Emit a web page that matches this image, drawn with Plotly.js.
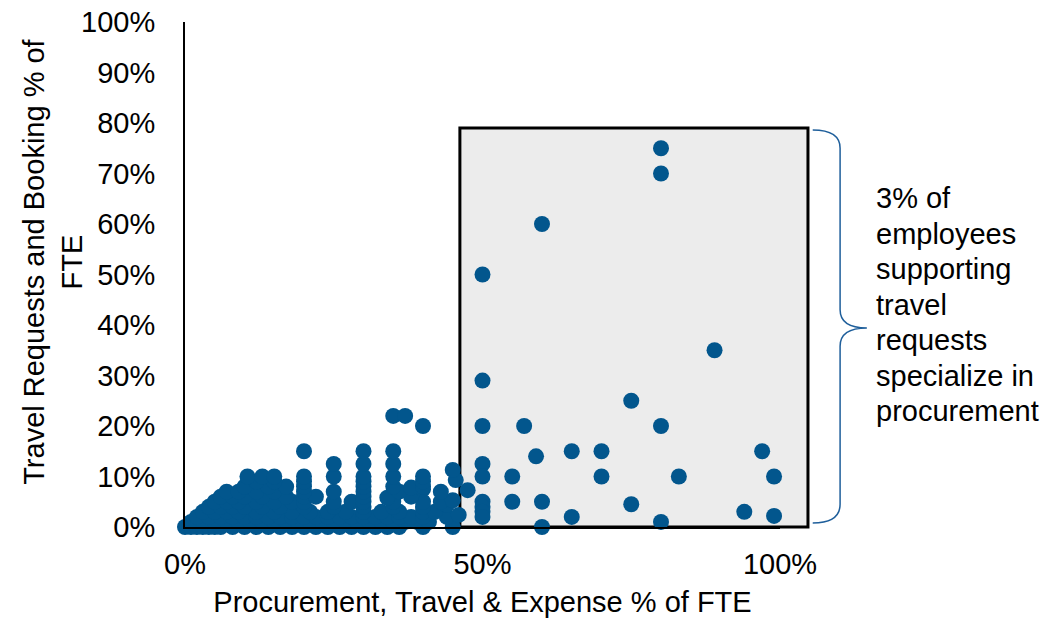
<!DOCTYPE html>
<html>
<head>
<meta charset="utf-8">
<script src="https://cdn.plot.ly/plotly-3.0.1.min.js"></script>
<style>html,body{margin:0;padding:0;background:#fff;}#chart{width:1044px;height:618px;}</style>
</head>
<body>
<div id="chart"></div>
<script>
// Procurement, Travel & Expense share of FTE (x) vs Travel Requests and Booking share of FTE (y)
const clusterX = [
  0,0.01,0.02,0.03,0.04,0.05,0.06,0.08,0.10,0.12,0.14,0.16,0.18,0.20,0.22,0.24,0.26,0.28,0.30,0.32,0.34,0.36,0.40,0.45,
  0.01,0.03,0.05,0.07,0.09,0.11,0.13,0.15,0.17,0.19,0.21,0.23,0.25,0.27,0.29,0.31,0.33,0.35,0.37,0.39,0.41,
  0.02,0.04,0.06,0.08,0.10,0.12,0.14,0.16,0.18,0.20,0.22,0.24,0.26,0.28,0.30,0.32,0.34,0.36,0.38,0.40,0.44,0.46,
  0.03,0.05,0.07,0.09,0.12,0.15,0.18,0.21,0.24,0.27,0.30,0.33,0.36,0.40,0.42,
  0.04,0.06,0.08,0.10,0.13,0.16,0.20,0.25,0.30,0.35,0.40,0.44,
  0.05,0.07,0.09,0.12,0.15,0.18,0.20,0.25,0.28,0.30,0.35,0.40,0.43,0.45,
  0.06,0.08,0.10,0.13,0.17,0.20,0.22,0.30,0.34,0.38,
  0.07,0.09,0.12,0.15,0.20,0.25,0.30,0.36,0.40,0.43,0.475,
  0.10,0.14,0.17,0.20,0.30,0.35,0.38,0.40,
  0.12,0.15,0.20,0.30,0.40,0.455,
  0.105,0.13,0.15,0.20,0.25,0.30,0.35,0.40,
  0.45,
  0.25,0.30,0.35,
  0.20,0.30,0.35,
  0.35,0.37,0.40
];
const clusterY = [
  0,0,0,0,0,0,0,0,0,0,0,0,0,0,0,0,0,0,0,0,0,0,0,0,
  0.01,0.01,0.01,0.01,0.01,0.01,0.01,0.01,0.01,0.01,0.01,0.01,0.01,0.01,0.01,0.01,0.01,0.01,0.01,0.01,0.01,
  0.02,0.02,0.02,0.02,0.02,0.02,0.02,0.02,0.02,0.02,0.02,0.02,0.02,0.02,0.02,0.02,0.02,0.02,0.02,0.02,0.02,0.024,
  0.03,0.03,0.03,0.03,0.03,0.03,0.03,0.03,0.03,0.03,0.03,0.03,0.03,0.03,0.03,
  0.04,0.04,0.04,0.04,0.04,0.04,0.04,0.04,0.04,0.04,0.04,0.044,
  0.05,0.05,0.05,0.05,0.05,0.05,0.05,0.05,0.05,0.05,0.05,0.05,0.05,0.053,
  0.06,0.06,0.06,0.06,0.06,0.06,0.06,0.06,0.058,0.06,
  0.07,0.07,0.07,0.07,0.07,0.07,0.07,0.07,0.075,0.07,0.073,
  0.08,0.08,0.08,0.08,0.08,0.08,0.078,0.08,
  0.09,0.09,0.09,0.09,0.09,0.093,
  0.10,0.10,0.10,0.10,0.10,0.10,0.10,0.10,
  0.113,
  0.125,0.125,0.125,
  0.15,0.15,0.15,
  0.22,0.22,0.20
];
const boxX = [0.50,0.50,0.50,0.50,0.50,0.50,0.50,0.50,0.50,0.57,0.59,0.55,0.55,0.60,0.60,0.60,0.65,0.65,0.70,0.70,0.75,0.75,0.80,0.80,0.80,0.80,0.83,0.89,0.94,0.97,0.99,0.99];
const boxY = [0.50,0.29,0.20,0.125,0.10,0.05,0.04,0.03,0.02,0.20,0.14,0.10,0.05,0.05,0.00,0.60,0.15,0.02,0.15,0.10,0.25,0.045,0.20,0.01,0.75,0.70,0.10,0.35,0.03,0.15,0.10,0.022];
const xTickVals = [0, 0.5, 1];
const xTickText = ['0%', '50%', '100%'];
const yTickVals = [0,0.1,0.2,0.3,0.4,0.5,0.6,0.7,0.8,0.9,1];
const yTickText = ['0%','10%','20%','30%','40%','50%','60%','70%','80%','90%','100%'];
const xTitle = 'Procurement, Travel &amp; Expense % of FTE';
const yTitle = 'Travel Requests and Booking % of<br>FTE';
const noteLines = ['3% of', 'employees', 'supporting', 'travel', 'requests', 'specialize in', 'procurement'];

const FONT = 'Liberation Sans, Arial, sans-serif';
const FS = 29;
const DOT = '#02568D';

const traces = [{
  type: 'scatter', mode: 'markers',
  x: clusterX.concat(boxX), y: clusterY.concat(boxY),
  marker: {size: 16, color: DOT, line: {width: 0}},
  cliponaxis: false, hoverinfo: 'x+y'
}];

const plotH = 618 - 22 - 91;
const lineStep = 35.5 / plotH;
const noteAnns = noteLines.map((t, i) => ({
  xref: 'paper', yref: 'paper', x: 1.158, y: 0.651 - i * lineStep,
  xanchor: 'left', yanchor: 'middle', align: 'left', showarrow: false, text: t,
  font: {family: FONT, size: FS, color: '#000'}
}));
const yTitleAnn = {
  xref: 'paper', yref: 'paper', x: -0.222, y: 0.525, xanchor: 'center', yanchor: 'middle',
  textangle: -90, align: 'center', showarrow: false, text: yTitle,
  font: {family: FONT, size: FS, color: '#000'}
};

const layout = {
  width: 1044, height: 618,
  margin: {l: 185, r: 264, t: 22, b: 91},
  paper_bgcolor: '#ffffff', plot_bgcolor: 'rgba(0,0,0,0)',
  showlegend: false,
  font: {family: FONT, size: FS, color: '#000'},
  xaxis: {
    range: [0, 1], tickvals: xTickVals, ticktext: xTickText,
    showgrid: false, zeroline: false, showline: true, linecolor: '#000', linewidth: 2,
    ticks: '', ticklabelstandoff: 10,
    tickfont: {family: FONT, size: FS, color: '#000'},
    title: {text: xTitle, font: {family: FONT, size: FS, color: '#000'}, standoff: 18},
    automargin: false
  },
  yaxis: {
    range: [0, 1], tickvals: yTickVals, ticktext: yTickText,
    showgrid: false, zeroline: false, showline: true, linecolor: '#000', linewidth: 2,
    ticks: '', ticklabelstandoff: 22,
    tickfont: {family: FONT, size: FS, color: '#000'},
    automargin: false
  },
  shapes: [
    {type: 'rect', xref: 'paper', yref: 'paper', x0: 0.462, x1: 1.047, y0: 0, y1: 0.79,
     fillcolor: '#ECECEC', line: {color: '#000', width: 3}, layer: 'below'},
    {type: 'path', xref: 'paper', yref: 'paper',
     path: 'M 1.055,0.786 Q 1.101,0.786 1.101,0.75 L 1.101,0.43 Q 1.101,0.394 1.146,0.394 Q 1.101,0.394 1.101,0.358 L 1.101,0.045 Q 1.101,0.008 1.055,0.008',
     line: {color: '#1F5F9B', width: 1.5}}
  ],
  annotations: [yTitleAnn].concat(noteAnns)
};

Plotly.newPlot('chart', traces, layout, {displayModeBar: false, staticPlot: true});
</script>
</body>
</html>
